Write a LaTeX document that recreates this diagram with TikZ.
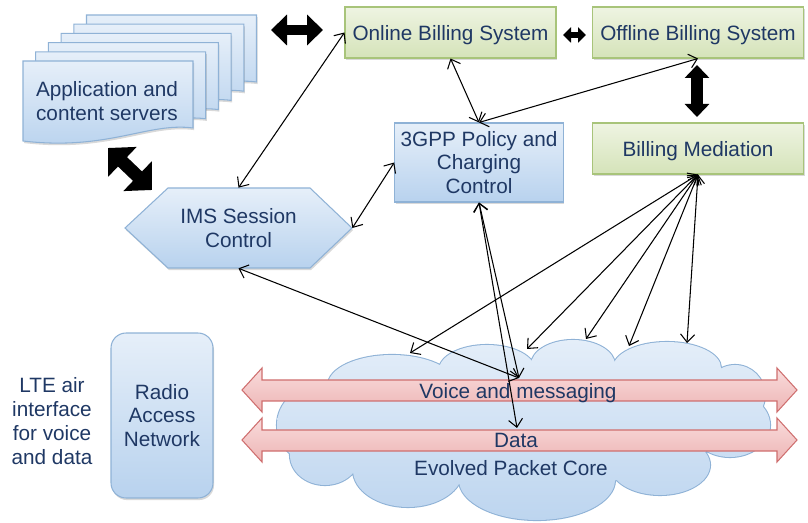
\documentclass[tikz,border=0pt]{standalone}
\usepackage{fontspec}
\setmainfont{Liberation Sans}
\usetikzlibrary{arrows.meta,shadows}
\definecolor{txt}{HTML}{1F3864}
\definecolor{gtop}{HTML}{EEF4E2}
\definecolor{gbot}{HTML}{D5E3B9}
\definecolor{gbord}{HTML}{A8C47A}
\definecolor{btop}{HTML}{E6EFF9}
\definecolor{bbot}{HTML}{B8D2EE}
\definecolor{bbord}{HTML}{8FB2D6}
\definecolor{ptop}{HTML}{F9DCDC}
\definecolor{pbot}{HTML}{EDB4B4}
\definecolor{pbord}{HTML}{CF6F6F}
\definecolor{ctop}{HTML}{E4EEF9}
\definecolor{cbot}{HTML}{BDD5EF}
\tikzset{
  lbl/.style={text=txt, align=center, font=\fontsize{11.8}{13.6}\selectfont},
  shad/.style={drop shadow={shadow xshift=0.6pt, shadow yshift=-1.2pt, opacity=0.25, fill=black!60}},
  greenbox/.style={lbl, text depth=0pt, draw=gbord, line width=0.6pt, top color=gtop, bottom color=gbot, minimum width=4.22cm, minimum height=1.02cm, shad},
  bluebox/.style={lbl, draw=bbord, line width=0.6pt, top color=btop, bottom color=bbot, shad},
  bluefill/.style={draw=bbord, line width=0.6pt, top color=btop, bottom color=bbot},
  pinkfill/.style={draw=pbord, line width=0.6pt, top color=ptop, bottom color=pbot},
  link/.style={draw=black, line width=0.6pt, {Straight Barb[length=4.5pt,width=8pt]}-{Straight Barb[length=4.5pt,width=8pt]}},
  fat/.style={draw=black, fill=black}
}
\begin{document}
\begin{tikzpicture}[x=0.02cm, y=-0.02cm]
\useasboundingbox (0,0) rectangle (808,523);

% stacked documents
\foreach \i in {5,4,3,2,1,0} {
  \begin{scope}[shift={({23+12.7*\i},{61-9.2*\i})}]
    \path[bluefill, shad] (0,0) -- (170,0) -- (170,67) .. controls (125,61) and (85,90) .. (0,80) -- cycle;
  \end{scope}
}
\node[lbl] (apps) at (107,101) {Application and\\content servers};

% billing boxes
\node[greenbox] (online) at (450.5,32.5) {Online Billing System};
\node[greenbox] (offline) at (698,32.5) {Offline Billing System};
\node[greenbox] (med) at (698,148.5) {Billing Mediation};
\node[bluebox, minimum width=3.36cm, minimum height=1.58cm] (gpp) at (479,162.5) {3GPP Policy and\\Charging\\Control};

% IMS hexagon
\path[bluefill, shad] (125,228) -- (168,188) -- (310,188) -- (352,228) -- (310,268) -- (168,268) -- cycle;
\node[lbl, minimum width=4.54cm, minimum height=1.6cm] (ims) at (238.5,228) {IMS Session\\Control};

% radio access network
\node[bluebox, rounded corners=0.3cm, minimum width=2.04cm, minimum height=3.3cm] (ran) at (162,415.5) {Radio\\Access\\Network};
\node[lbl] (lte) at (52,421) {LTE air\\interface\\for voice\\and data};

% cloud (union of ellipses)
\def\cloudpath{(392,385) ellipse [x radius=64, y radius=30]
  (487,370) ellipse [x radius=48, y radius=25]
  (573,365) ellipse [x radius=42, y radius=25]
  (667,368) ellipse [x radius=54, y radius=26]
  (735,395) ellipse [x radius=30, y radius=30]
  (730,425) ellipse [x radius=40, y radius=32]
  (660,465) ellipse [x radius=50, y radius=30]
  (537,480) ellipse [x radius=78, y radius=40]
  (408,470) ellipse [x radius=55, y radius=37]
  (325,455) ellipse [x radius=35, y radius=30]
  (320,425) ellipse [x radius=43, y radius=40]
  (525,425) ellipse [x radius=200, y radius=62]}
\path[draw=bbord, line width=1.2pt] \cloudpath;
\path[top color=ctop, bottom color=cbot, nonzero rule] \cloudpath;
\node[lbl] (epclbl) at (511,468) {Evolved Packet Core};

% pink double arrows
\path[pinkfill] (242,390) -- (262,368) -- (262,380) -- (777,380) -- (777,368) -- (797,390) -- (777,412) -- (777,401) -- (262,401) -- (262,412) -- cycle;
\node[lbl, text depth=0pt] (voice) at (518,391) {Voice and messaging};
\path[pinkfill] (242,440) -- (262,418) -- (262,430) -- (777,430) -- (777,418) -- (797,440) -- (777,462) -- (777,451) -- (262,451) -- (262,462) -- cycle;
\node[lbl] (data) at (516,440) {Data};

\coordinate (vtop) at (519,378);
\coordinate (dtop) at (517,428);
\coordinate (p1) at (410,353);
\coordinate (p2) at (527,349);
\coordinate (p3) at (586,339);
\coordinate (p4) at (629,346);
\coordinate (p5) at (687,343);

% fat black arrows
\coordinate (fa1) at (271,30); \coordinate (fa2) at (323,30);
\draw[fat, line width=0.21cm, {Triangle[length=0.32cm,width=0.6cm]}-{Triangle[length=0.32cm,width=0.6cm]}] (fa1) -- (fa2);
\coordinate (fb1) at (563,35); \coordinate (fb2) at (586,35);
\draw[fat, line width=0.12cm, {Triangle[length=0.16cm,width=0.3cm]}-{Triangle[length=0.16cm,width=0.3cm]}] (fb1) -- (fb2);
\coordinate (fc1) at (697,65); \coordinate (fc2) at (697,117);
\draw[fat, line width=0.24cm, {Triangle[length=0.26cm,width=0.48cm]}-{Triangle[length=0.26cm,width=0.48cm]}] (fc1) -- (fc2);
\coordinate (fd1) at (108,148); \coordinate (fd2) at (152,190);
\draw[fat, line width=0.26cm, {Triangle[length=0.4cm,width=0.8cm]}-{Triangle[length=0.4cm,width=0.8cm]}] (fd1) -- (fd2);

% thin connectors
\draw[link] (ims.north) -- (online.west);
\draw[link] (online.south) -- (gpp.north);
\draw[link] (offline.south) -- (gpp.north);
\draw[link] (ims.east) -- (gpp.west);
\draw[link] (ims.south) -- (vtop);
\draw[link] (gpp.south) -- (vtop);
\draw[link] (gpp.south) -- (dtop);
\foreach \p in {p1,p2,p3,p4,p5} { \draw[link] (med.south) -- (\p); }
\end{tikzpicture}
\end{document}
